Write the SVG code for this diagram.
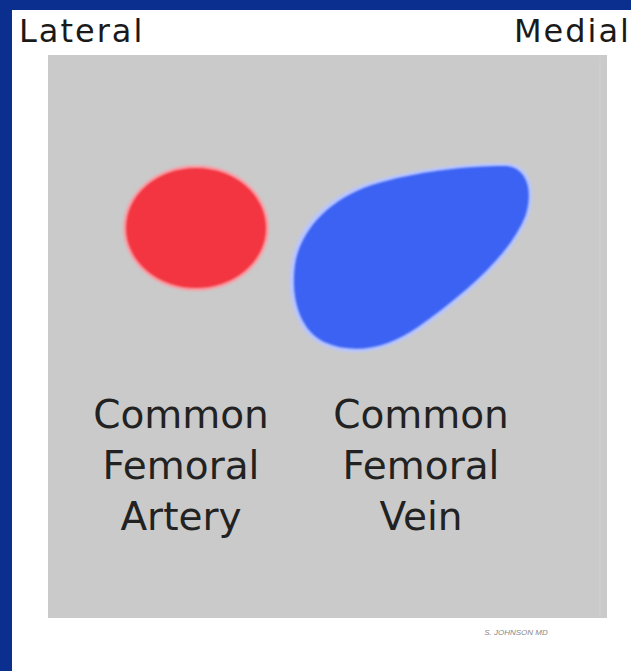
<svg xmlns="http://www.w3.org/2000/svg" width="631" height="671" viewBox="0 0 631 671">
  <defs>
    <style>
      .hdr { font-family: "DejaVu Sans", "Liberation Sans", sans-serif; font-size: 32px; fill: #1a1a1a; letter-spacing: 2px; }
      .lbl { font-family: "DejaVu Sans", "Liberation Sans", sans-serif; font-size: 39px; fill: #222222; text-anchor: middle; }
      .sig { font-family: "Liberation Sans", sans-serif; font-size: 8px; fill: #888; font-style: italic; }
    </style>
    <filter id="soft" x="-10%" y="-10%" width="120%" height="120%">
      <feGaussianBlur stdDeviation="1.2"/>
    </filter>
  </defs>

  <!-- slide background and white panel -->
  <rect width="631" height="671" fill="#0a2f8f"/>
  <rect x="12" y="10" width="619" height="661" fill="#ffffff"/>

  <!-- header labels -->
  <text class="hdr" x="19" y="42">Lateral</text>
  <text class="hdr" x="631" y="42" text-anchor="end">Medial</text>

  <!-- gray cross-section field -->
  <rect x="48" y="55" width="559" height="563" fill="#cacaca"/>
  <line x1="600" y1="58" x2="600" y2="615" stroke="#d2d2d2" stroke-width="1"/>

  <!-- artery -->
  <g id="artery">
    <ellipse cx="196" cy="228" rx="73" ry="63" fill="#f7a0a8" filter="url(#soft)"/>
    <ellipse cx="196" cy="228" rx="70" ry="60" fill="#f2343f" filter="url(#soft)"/>
    <text class="lbl" x="181" y="428">Common</text>
    <text class="lbl" x="181" y="479">Femoral</text>
    <text class="lbl" x="181" y="530">Artery</text>
  </g>

  <!-- vein -->
  <g id="vein">
    <path d="M505,163 C530,163 538,190 528,218 C512,258 465,298 420,330 C390,350 355,360 322,345 C292,330 285,290 292,258 C300,222 330,195 370,182 C415,168 470,163 505,163 Z" fill="#b9c6ff" filter="url(#soft)"/>
    <path d="M504,166 C527,166 534,191 525,217 C509,256 463,295 418,327 C389,347 356,356 324,342 C296,328 290,290 296,259 C304,225 333,198 372,185 C416,171 470,166 504,166 Z" fill="#3b62f2" filter="url(#soft)"/>
    <text class="lbl" x="421" y="428">Common</text>
    <text class="lbl" x="421" y="479">Femoral</text>
    <text class="lbl" x="421" y="530">Vein</text>
  </g>

  <!-- illustrator credit -->
  <text class="sig" x="516" y="635" text-anchor="middle">S. JOHNSON MD</text>
</svg>
